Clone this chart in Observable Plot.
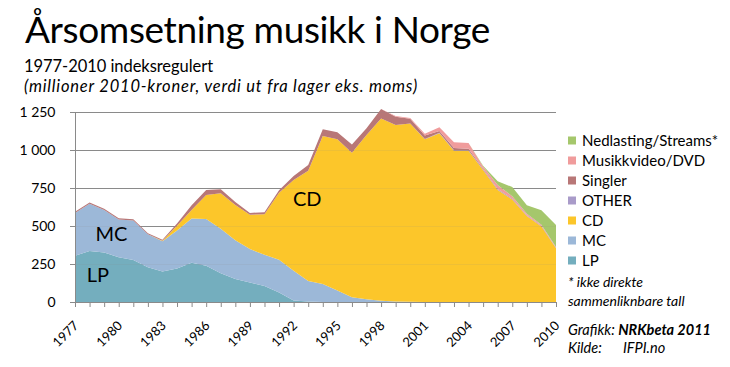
<!DOCTYPE html>
<html><head><meta charset="utf-8">
<script src="https://cdn.jsdelivr.net/npm/d3@7"></script>
<script src="https://cdn.jsdelivr.net/npm/@observablehq/plot@0.6"></script>
<style>
body{margin:0;background:#fff;}
#wrap{position:relative;width:730px;height:367px;overflow:hidden;}
</style></head><body><div id="wrap"></div>
<script>
const years = [1977,1978,1979,1980,1981,1982,1983,1984,1985,1986,1987,1988,1989,1990,1991,1992,1993,1994,1995,1996,1997,1998,1999,2000,2001,2002,2003,2004,2005,2006,2007,2008,2009,2010];
const labelYears = [1977,1980,1983,1986,1989,1992,1995,1998,2001,2004,2007,2010];
const yTicks = [0,250,500,750,1000,1250];

const lp = [305,335,325,295,277,228,200,221,259,238,189,151,128,106,62,10,3,0,0,0,0,0,0,0,0,0,0,0,0,0,0,0,0,0];
const mc = [280,312,280,248,260,218,200,250,291,308,293,255,220,205,216,195,135,118,75,32,18,9,3,1,0,0,0,0,0,0,0,0,0,0];
const cd = [0,0,0,0,0,0,3,30,55,158,233,232,226,267,440,598,726,974,995,950,1081,1199,1161,1174,1070,1110,995,995,868,737,675,566,496,353];
const other = [0,0,0,0,0,0,0,0,0,0,0,0,0,0,0,0,0,0,0,0,0,0,0,0,3,3,3,3,3,3,3,3,3,3];
const singler = [8,8,8,8,8,7,7,15,32,33,26,20,12,13,18,26,37,44,46,55,44,62,55,30,22,12,15,10,5,4,3,2,2,1];
const video = [0,0,0,0,0,0,0,0,0,0,0,0,0,0,0,0,0,0,0,0,0,0,5,5,12,25,38,38,15,25,15,10,8,5];
const nedlasting = [0,0,0,0,0,0,0,0,0,0,0,0,0,0,0,0,0,0,0,0,0,0,0,0,0,0,0,0,5,26,60,55,95,145];

const series = ["LP","MC","CD","OTHER","Singler","Musikkvideo/DVD","Nedlasting/Streams*"];
const colors = ["#74aebe","#9cb8d8","#fcc62a","#a99bc9","#b87777","#f09c9c","#a5c76c"];
const values = [lp, mc, cd, other, singler, video, nedlasting];

const areaLabels = [
  {label:"CD", year:1992.9, value:677},
  {label:"MC", year:1979.47, value:444},
  {label:"LP", year:1978.54, value:174}
];

const data = series.flatMap((s,i)=> years.map((y,j)=>({year:y, series:s, value:values[i][j]})));
const fmt = d => d3.format(",")(d).replace(/,/g, " ");

const chart = Plot.plot({
  width:730, height:367,
  marginTop:112, marginBottom:65, marginLeft:75, marginRight:174,
  x:{domain:[1977,2010]},
  y:{domain:[0,1250]},
  color:{domain:series, range:colors},
  style:{fontFamily:"Lato, sans-serif", fontSize:"14px", color:"#000", background:"transparent"},
  marks:[
    Plot.ruleY(yTicks.filter(d=>d>0), {stroke:"#8a8a8a", strokeWidth:1}),
    Plot.areaY(data, {x:"year", y:"value", fill:"series", order:series, curve:"linear"}),
    Plot.ruleY(yTicks.filter(d=>d>0), {stroke:"#8a8a8a", strokeWidth:1, strokeOpacity:0.12}),
    Plot.axisY(yTicks, {tickSize:5, tickPadding:15, tickFormat:fmt, stroke:"#8a8a8a", fontSize:14, label:null}),
    Plot.ruleX([1977], {stroke:"#8a8a8a"}),
    Plot.ruleY([0], {stroke:"#8a8a8a"}),
    Plot.axisX(years, {tickSize:5, tickFormat:()=>"", stroke:"#8a8a8a", label:null}),
    Plot.text(labelYears, {x:d=>d, y:()=>0, text:d=>String(d), rotate:-45, textAnchor:"end", dx:1, dy:21, fontSize:13, fill:"#000"}),
    Plot.text(areaLabels, {x:"year", y:"value", text:"label", fontSize:20, fill:"#000"})
  ]
});
document.getElementById("wrap").appendChild(chart);

const svg = d3.select(chart);
function add(x, y, txt, o={}) {
  const t = svg.append("text").attr("x", x).attr("y", y)
    .attr("text-anchor","start")
    .attr("font-family","Lato, sans-serif").attr("font-size", o.size||14).attr("fill","#000");
  if (o.italic) t.attr("font-style","italic");
  if (o.bold) t.attr("font-weight","bold");
  if (txt !== null) t.text(txt);
  if (o.width) {
    const w = t.node().getComputedTextLength();
    const n = txt.length;
    t.attr("letter-spacing", ((o.width - w)/n).toFixed(3));
  }
  return t;
}
add(25, 43, "Årsomsetning musikk i Norge", {size:37, width:465});
add(24, 72, "1977-2010 indeksregulert", {size:16.5, width:189});
add(24, 92, "(millioner 2010-kroner, verdi ut fra lager eks. moms)", {size:16.5, italic:true, width:394});

// legend (reversed order)
const legendSeries = series.slice().reverse();
const legendColors = colors.slice().reverse();
legendSeries.forEach((s,i)=>{
  const cy = 140.5 + i*20;
  svg.append("rect").attr("x",568).attr("y",cy-4).attr("width",8).attr("height",8).attr("fill",legendColors[i]);
  add(582, cy+5, s, {size:15});
});
add(568, 287, "* ikke direkte", {size:14, italic:true});
add(568, 306, "sammenliknbare tall", {size:14, italic:true});

const g = add(568, 335, null, {size:14.5, italic:true});
g.append("tspan").text("Grafikk: ");
g.append("tspan").attr("font-weight","bold").text("NRKbeta 2011");
const k = add(568, 353, null, {size:14.5, italic:true});
k.append("tspan").text("Kilde:");
k.append("tspan").attr("x",623).text("IFPI.no");
</script>
</body></html>
